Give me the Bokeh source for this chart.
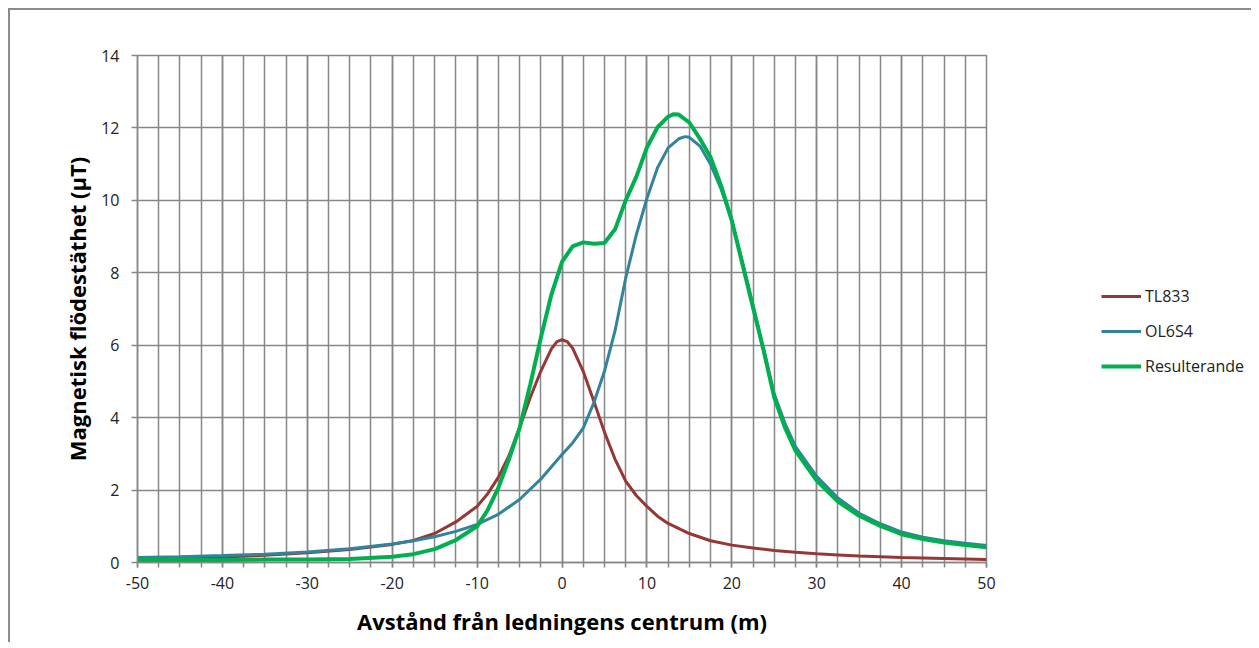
from bokeh.plotting import figure
from bokeh.layouts import row
from bokeh.models import SingleIntervalTicker, Legend, LegendItem, PrintfTickFormatter, Range1d
from bokeh.embed import file_html
from bokeh.resources import INLINE

# ---- data ----
x_tl = [-50, -45, -40, -35, -30, -25, -20, -17.5, -15, -12.5, -10, -8.75, -7.5, -6.25, -5, -3.75,
        -2.5, -1.25, -0.6, 0, 0.6, 1.25, 2.5, 3.75, 5, 6.25, 7.5, 8.75, 10, 11.25, 12.5, 15, 17.5, 20, 22.5,
        25, 27.5, 30, 32.5, 35, 40, 45, 50]
y_tl = [0.10, 0.12, 0.15, 0.20, 0.27, 0.36, 0.50, 0.61, 0.80, 1.12, 1.55, 1.90, 2.35, 2.95, 3.72, 4.55,
        5.28, 5.90, 6.10, 6.15, 6.10, 5.92, 5.28, 4.45, 3.60, 2.85, 2.25, 1.85, 1.55, 1.28, 1.08, 0.80, 0.60, 0.48, 0.40,
        0.33, 0.28, 0.24, 0.21, 0.18, 0.14, 0.11, 0.08]

x_ol = [-50, -45, -40, -35, -30, -25, -20, -17.5, -15, -12.5, -10, -7.5, -5, -2.5, 0, 1.25, 2.5, 3.75,
        5, 6.25, 7.5, 8.75, 10, 11.25, 12.5, 13.75, 14.5, 15, 16.25, 17.5, 18.75, 20, 21.25, 22.5, 23.75,
        25, 26.25, 27.5, 30, 32.5, 35, 37.5, 40, 42.5, 45, 47.5, 50]
y_ol = [0.14, 0.16, 0.19, 0.23, 0.29, 0.38, 0.51, 0.60, 0.71, 0.86, 1.05, 1.33, 1.74, 2.30, 2.98, 3.30, 3.71, 4.41,
        5.28, 6.40, 7.85, 9.05, 10.05, 10.90, 11.45, 11.70, 11.76, 11.74, 11.50, 11.00, 10.30, 9.45, 8.30, 7.10, 5.90,
        4.65, 3.85, 3.20, 2.38, 1.78, 1.36, 1.07, 0.84, 0.70, 0.60, 0.53, 0.47]

x_res = [-50, -45, -40, -35, -30, -25, -20, -17.5, -15, -12.5, -10, -8.75, -7.5, -6.25, -5, -3.75,
         -2.5, -1.25, 0, 1.25, 2.5, 3.75, 5, 6.25, 7.5, 8.75, 10, 11.25, 12.5, 13.1, 13.75, 15, 16.25,
         17.5, 18.75, 20, 21.25, 22.5, 23.75, 25, 26.25, 27.5, 30, 32.5, 35, 37.5, 40, 42.5, 45, 47.5, 50]
y_res = [0.07, 0.07, 0.07, 0.08, 0.08, 0.10, 0.16, 0.23, 0.37, 0.62, 1.00, 1.45, 2.06, 2.85, 3.71, 4.90,
         6.20, 7.40, 8.30, 8.73, 8.84, 8.80, 8.82, 9.20, 10.00, 10.65, 11.46, 12.02, 12.31, 12.38, 12.37, 12.15, 11.70,
         11.19, 10.40, 9.44, 8.24, 7.04, 5.85, 4.56, 3.73, 3.09, 2.26, 1.68, 1.29, 1.01, 0.78, 0.65, 0.55, 0.48, 0.42]

series_names = ["TL833", "OL6S4", "Resulterande"]
series_colors = ["#953735", "#31849B", "#00B050"]
series_widths = [3, 3, 4]

x_label = "Avstånd från ledningens centrum (m)"
y_label = "Magnetisk flödestäthet (µT)"

GRID = "#878787"
FONT = "Open Sans"
H = 632

# ---- main chart ----
p = figure(width=986, height=H, x_range=(-50, 50), y_range=(0, 14),
           output_backend="svg", toolbar_location=None,
           min_border_left=127, min_border_right=10, min_border_top=45, min_border_bottom=80)
p.outline_line_color = GRID
p.outline_line_width = 1.5
p.background_fill_color = "white"
p.border_fill_color = "white"

xt = SingleIntervalTicker(interval=10, num_minor_ticks=4)
yt = SingleIntervalTicker(interval=2, num_minor_ticks=0)
p.xaxis.ticker = xt
p.yaxis.ticker = yt
p.xaxis.formatter = PrintfTickFormatter(format="%d")
p.yaxis.formatter = PrintfTickFormatter(format="%d")
p.xgrid.ticker = xt
p.ygrid.ticker = yt
for g in (p.xgrid, p.ygrid):
    g.grid_line_color = GRID
    g.grid_line_width = 1.5
p.xgrid.minor_grid_line_color = GRID
p.xgrid.minor_grid_line_width = 1.5

for ax in (p.xaxis, p.yaxis):
    ax.axis_line_color = GRID
    ax.axis_line_width = 1.5
    ax.major_tick_line_color = GRID
    ax.major_tick_line_width = 1.5
    ax.minor_tick_line_color = GRID
    ax.minor_tick_line_width = 1.5
    ax.major_tick_in = 0
    ax.minor_tick_in = 0
    ax.major_label_text_font = FONT
    ax.major_label_text_font_size = "16px"
    ax.major_label_text_color = "#222222"
    ax.axis_label_text_font = FONT
    ax.axis_label_text_font_style = "bold"
    ax.axis_label_text_font_size = "22px"
    ax.axis_label_text_color = "#000000"

p.xaxis.major_tick_out = 5
p.xaxis.minor_tick_out = 5
p.xaxis.major_label_standoff = 9
p.xaxis.axis_label_standoff = 14
p.xaxis.axis_label = x_label

p.yaxis.major_tick_out = 6
p.yaxis.minor_tick_out = 0
p.yaxis.major_label_standoff = 12
p.yaxis.axis_label_standoff = 6
p.yaxis.axis_label = y_label

xs = [x_tl, x_ol, x_res]
ys = [y_tl, y_ol, y_res]
for xx, yy, c, w in zip(xs, ys, series_colors, series_widths):
    p.line(xx, yy, line_color=c, line_width=w)

# ---- legend panel (separate figure whose frame is the whole panel) ----
lg = figure(width=255, height=H, x_range=Range1d(1000, 1001), y_range=Range1d(1000, 1001),
            output_backend="svg", toolbar_location=None,
            min_border_left=0, min_border_right=0, min_border_top=0, min_border_bottom=0)
lg.axis.visible = False
lg.grid.visible = False
lg.outline_line_color = None
lg.background_fill_color = "white"
lg.border_fill_color = "white"
items = []
for xx, yy, c, w, name in zip(xs, ys, series_colors, series_widths, series_names):
    r = lg.line(xx, yy, line_color=c, line_width=w)   # lies outside this panel's range
    items.append(LegendItem(label=name, renderers=[r]))
legend = Legend(items=items, location=(105, 185), orientation="vertical",
                glyph_width=40, glyph_height=20, label_height=20, label_standoff=4,
                spacing=13, padding=0, margin=0,
                border_line_color=None, background_fill_alpha=0,
                label_text_font=FONT, label_text_font_size="16px", label_text_color="#222222")
lg.add_layout(legend)

layout = row(p, lg, spacing=0)
layout.styles = {"border-top": "2px solid #8c8c8c", "border-left": "2px solid #8c8c8c",
                 "margin-left": "8px", "margin-top": "8px"}

open("out.html", "w").write(file_html(layout, INLINE))
